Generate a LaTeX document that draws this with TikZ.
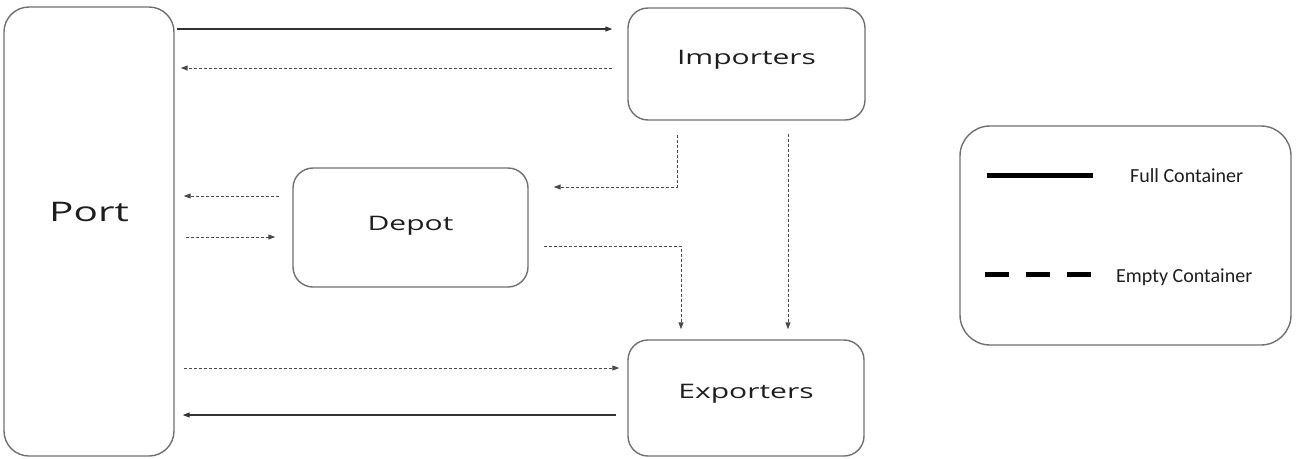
\documentclass[tikz,border=0pt]{standalone}
\usepackage{fontspec}
\newfontfamily\boxfont[FakeStretch=1.5]{Open Sans}
\newfontfamily\legfont{Carlito}
\usetikzlibrary{arrows.meta}
\definecolor{boxgray}{HTML}{707070}
\definecolor{arrgray}{HTML}{333333}
\definecolor{dashgray}{HTML}{4A4A4A}
\definecolor{txt}{HTML}{1E1E1E}
\begin{document}
\begin{tikzpicture}[x=1pt,y=-1pt,
  box/.style={draw=boxgray, line width=1.4pt, rounded corners=20pt, inner sep=0pt,
    text=txt, font=\boxfont\fontsize{20}{24}\selectfont, text height=0pt, text depth=0pt},
  tip/.style={-{Triangle[length=7pt,width=5pt]}},
  fullarr/.style={tip, draw=arrgray, line width=1.1pt},
  emptyarr/.style={tip, draw=dashgray, line width=1pt, dash pattern=on 3pt off 2pt},
  legtext/.style={font=\legfont\fontsize{20}{24}\selectfont, text=txt, inner sep=0pt, anchor=base west},
]
\useasboundingbox (0,0) rectangle (1298,458);

\node[box, minimum width=170pt, minimum height=449pt, rounded corners=25pt,
      font=\boxfont\fontsize{27}{30}\selectfont, text depth=20pt] (port) at (89,231.5) {Port};
\node[box, minimum width=237pt, minimum height=112pt] (imp) at (746.5,64) {Importers};
\node[box, minimum width=235pt, minimum height=119pt, text height=6pt] (depot) at (410.5,227.5) {Depot};
\node[box, minimum width=236pt, minimum height=116pt] (exp) at (746,398) {Exporters};
\node[box, minimum width=331pt, minimum height=219pt, rounded corners=30pt] (legend) at (1125.5,235.5) {};

% connectors
\draw[fullarr, shorten <=2pt, shorten >=15pt] (port.east |- 0,29) -- (imp.west |- 0,29);
\draw[emptyarr, shorten <=15pt, shorten >=6pt] (imp.west |- 0,68) -- (port.east |- 0,68);
\draw[emptyarr, shorten <=13pt, shorten >=9pt] (depot.west |- 0,196) -- (port.east |- 0,196);
\draw[emptyarr, shorten <=11pt, shorten >=17pt] (port.east |- 0,237) -- (depot.west |- 0,237);
\draw[emptyarr, shorten <=14pt, shorten >=25pt] (677,0 |- imp.south) |- (depot.east |- 0,187);
\draw[emptyarr, shorten <=13pt, shorten >=10pt] (788,0 |- imp.south) -- (788,0 |- exp.north);
\draw[emptyarr, shorten <=15pt, shorten >=10pt] (depot.east |- 0,246) -| (681,0 |- exp.north);
\draw[emptyarr, shorten <=9pt, shorten >=8pt] (port.east |- 0,368) -- (exp.west |- 0,368);
\draw[fullarr, shorten <=11pt, shorten >=8pt] (exp.west |- 0,415) -- (port.east |- 0,415);

% legend
\coordinate (fa) at (987,175);
\coordinate (fb) at (1093,175);
\coordinate (ea) at (985,274);
\coordinate (eb) at (1091,274);
\draw[line width=5pt, draw=black] (fa) -- (fb);
\draw[line width=5pt, draw=black, dash pattern=on 24pt off 17pt] (ea) -- (eb);
\node[legtext] (fulltext) at (1130,182) {Full Container};
\node[legtext] (emptytext) at (1116,282) {Empty Container};
\end{tikzpicture}
\end{document}
